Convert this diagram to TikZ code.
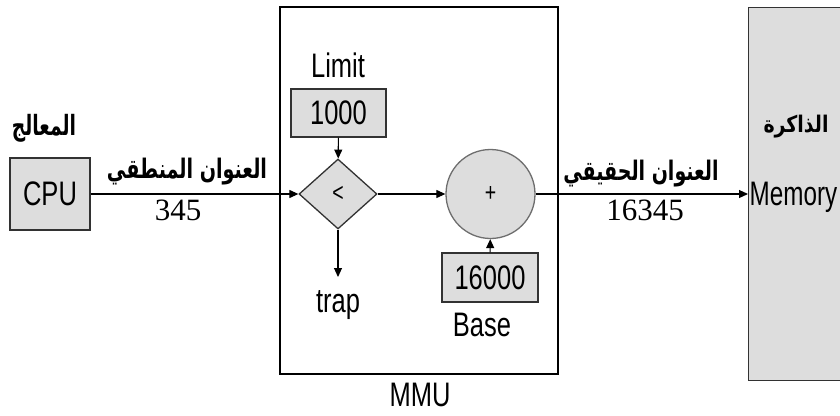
\documentclass[tikz,border=0pt]{standalone}
\usepackage{fontspec}
\setmainfont[FakeStretch=0.75]{Liberation Sans}
\newfontfamily\tms{Liberation Serif}
\newfontfamily\arabicfont[Script=Arabic]{DejaVu Sans}
\TeXXeTstate=1
\usetikzlibrary{shapes.geometric,arrows.meta}
\definecolor{boxgray}{RGB}{221,221,221}
\definecolor{edgegray}{RGB}{50,50,50}
\definecolor{circgray}{RGB}{110,110,110}
\begin{document}
\begin{tikzpicture}[x=1pt,y=-1pt,
  box/.style={draw=edgegray,fill=boxgray,line width=1.3pt,inner sep=0pt},
  lbl/.style={font=\fontsize{34}{34}\selectfont,inner sep=0pt},
  small/.style={font=\fontsize{26}{26}\selectfont,inner sep=0pt},
  num/.style={font=\tms\fontsize{31}{31}\selectfont,inner sep=0pt},
  ar/.style={inner sep=0pt},
  arr/.style={-{Triangle[length=9pt,width=8pt]},line width=1.1pt}]
\useasboundingbox (0,0) rectangle (840,415);
\clip (0,0) rectangle (840,415);
% boxes
\node[draw=black,line width=1.3pt,minimum width=278,minimum height=367,inner sep=0pt] (mmu) at (419,190.5) {};
\node[box,minimum width=110,minimum height=373,anchor=north west] (mem) at (748,7) {};
\node[box,lbl,minimum width=80,minimum height=72] (cpu) at (50,194) {CPU};
\node[box,lbl,minimum width=95,minimum height=48] (lim) at (338.5,113) {1000};
\node[diamond,draw=edgegray,fill=boxgray,line width=1.3pt,minimum width=78,minimum height=70,inner sep=0pt,small] (cmp) at (338,194) {<};
\node[circle,draw=circgray,fill=boxgray,line width=1.3pt,minimum size=89,inner sep=0pt,small] (add) at (490.5,194) {+};
\node[box,lbl,minimum width=96,minimum height=49] (base) at (490,277.5) {16000};
% labels
\node[lbl] (limit) at (338,65) {Limit};
\node[lbl] (trap) at (338,305) {trap};
\node[lbl] (baselbl) at (482,325) {Base};
\node[lbl] (mmulbl) at (420,395) {MMU};
\node[lbl,anchor=base west] (memtxt) at (749.5,205) {\scalebox{0.95}[1]{Memory}};
\node[num] (n345) at (178,210) {345};
\node[num] (n16345) at (645,210) {16345};
\node[ar] (cpuar) at (44,128) {\resizebox*{64pt}{28pt}{\arabicfont\bfseries\beginR المعالج\endR}};
\node[ar] (logar) at (187,172) {\resizebox*{160pt}{27pt}{\arabicfont\bfseries\beginR العنوان المنطقي\endR}};
\node[ar] (physar) at (641,174) {\resizebox*{155pt}{27pt}{\arabicfont\bfseries\beginR العنوان الحقيقي\endR}};
\node[ar] (memar) at (796,127) {\resizebox*{65pt}{23pt}{\arabicfont\bfseries\beginR الذاكرة\endR}};
\coordinate (trapend) at (338,277);
% connectors
\draw[arr] (cpu) -- (cmp);
\draw[arr] (lim) -- (cmp);
\draw[arr] (cmp) -- (trapend);
\draw[arr] (cmp) -- (add);
\draw[arr] (base) -- (add);
\draw[arr] (add) -- (add -| mem.west);
\end{tikzpicture}
\end{document}
